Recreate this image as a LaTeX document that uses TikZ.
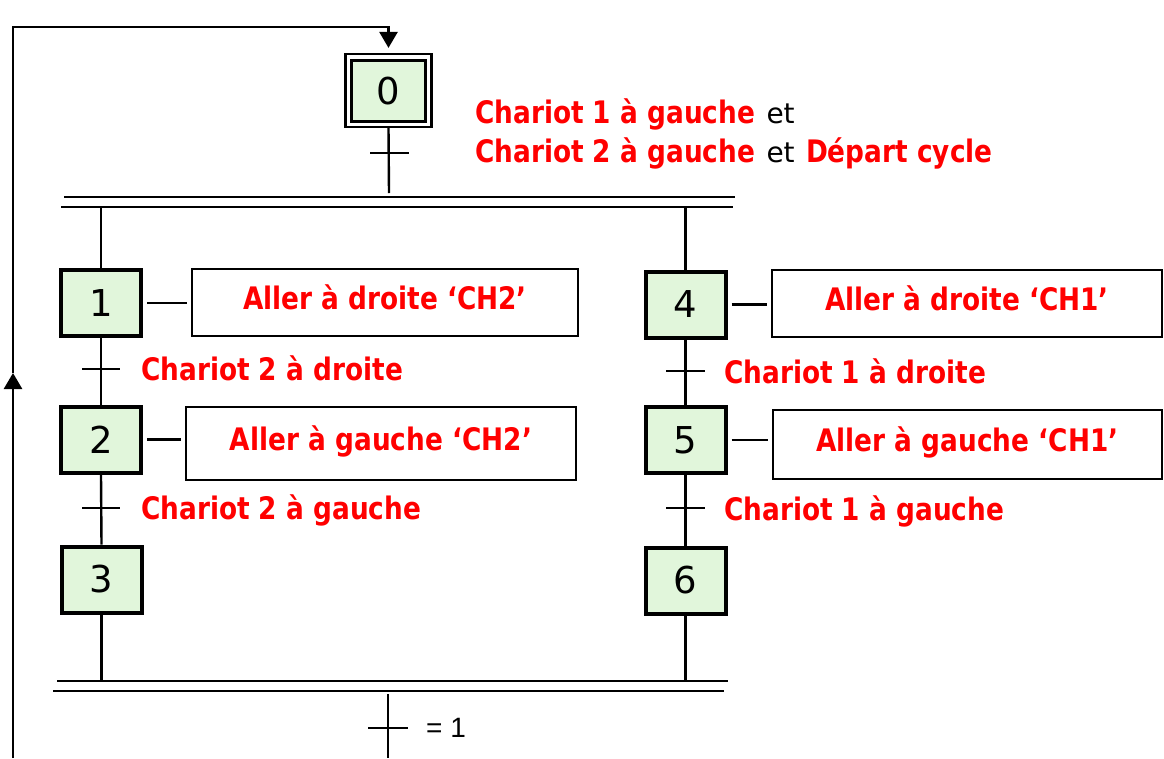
\documentclass[tikz,border=0pt]{standalone}
\usepackage{fontspec}
\setmainfont{DejaVu Sans}
\newfontfamily\tah{DejaVu Sans}[FakeStretch=0.85]
\newfontfamily\tahn{DejaVu Sans}
\newfontfamily\arialf{Liberation Sans}
\usetikzlibrary{arrows.meta,calc}
\definecolor{stepgreen}{HTML}{E1F6DB}
\definecolor{actred}{HTML}{FF0000}
\begin{document}
\begin{tikzpicture}[x=1pt,y=-1pt, line width=2.4pt,
  stepbox/.style={draw, line width=4pt, fill=stepgreen, minimum width=80pt, minimum height=66pt, inner sep=0pt, font=\tahn\fontsize{37}{42}\selectfont},
  actbox/.style={draw, line width=2.2pt, fill=white, inner sep=0pt, text=actred, font=\tah\bfseries\fontsize{31}{36}\selectfont, text height=24pt, text depth=10pt},
  cond/.style={text=actred, font=\tah\bfseries\fontsize{31}{36}\selectfont, anchor=base west, inner sep=0pt},
  blk/.style={text=black, font=\tahn\fontsize{28}{34}\selectfont, anchor=base west, inner sep=0pt},
  tick/.style={line width=2.2pt},
  link/.style={line width=2.2pt, shorten <=4pt, shorten >=4pt},
  tip/.style={-{Triangle[width=18pt,length=16pt]}}
]
\fill[white] (0,0) rectangle (1164,758);
\useasboundingbox (0,0) rectangle (1164,758);

% step 0
\node[draw, line width=2.2pt, minimum width=86pt, minimum height=73pt] (s0o) at (388.5,90.5) {};
\node[stepbox, line width=3.5pt, minimum width=74pt, minimum height=61pt] (s0) at (388.5,91) {0};

% left branch
\node[stepbox] (s1) at (101,303) {1};
\node[stepbox] (s2) at (101,439.5) {2};
\node[stepbox] (s3) at (101.5,579.5) {3};
% right branch
\node[stepbox] (s4) at (685.5,304.5) {4};
\node[stepbox] (s5) at (685.5,440) {5};
\node[stepbox] (s6) at (685.5,580.5) {6};

% actions
\node[actbox, minimum width=386pt, minimum height=67pt] (a1) at (385,302.5) {Aller à droite ‘CH2’};
\node[actbox, minimum width=390pt, minimum height=73pt] (a2) at (381,443.5) {Aller à gauche ‘CH2’};
\node[actbox, minimum width=390pt, minimum height=67pt] (a4) at (967,303.5) {Aller à droite ‘CH1’};
\node[actbox, minimum width=389pt, minimum height=69pt] (a5) at (967.5,444.5) {Aller à gauche ‘CH1’};

\draw[link] (s1.east) -- (s1.east -| a1.west);
\draw[link] (s2.east) -- (s2.east -| a2.west);
\draw[link] (s4.east) -- (s4.east -| a4.west);
\draw[link] (s5.east) -- (s5.east -| a5.west);

% bars
\draw (64,197) -- (735,197);
\draw (61,207) -- (733,207);
\draw (57,681) -- (728,681);
\draw (53,691) -- (724,691);
\coordinate (tbL) at (0,207);
\coordinate (bbU) at (0,681);

% vertical links
\draw (s0o.south) -- (389,193);
\draw (s1.north |- tbL) -- (s1.north);
\draw (s1.south) -- (s2.north);
\draw (s2.south) -- (s3.north);
\draw (s3.south) -- (s3.south |- bbU);
\draw (s4.north |- tbL) -- (s4.north);
\draw (s4.south) -- (s5.north);
\draw (s5.south) -- (s6.north);
\draw (s6.south) -- (s6.south |- bbU);
\draw (388,694) -- (388,758);

% ticks
\draw[tick] (370,153) -- (409,153);
\draw[tick] (82,369) -- (120,369);
\draw[tick] (82,508) -- (120,508);
\draw[tick] (666,371) -- (705,371);
\draw[tick] (666,508) -- (705,508);
\draw[tick] (368,728) -- (408,728);

% receptivities
\node[cond] (r0a) at (474,123) {Chariot 1 à gauche};
\node[blk] (r0b) at ([xshift=9pt]r0a.base east) {et};
\node[cond] (r0c) at (474,162) {Chariot 2 à gauche};
\node[blk] (r0d) at ([xshift=9pt]r0c.base east) {et};
\node[cond] (r0e) at ([xshift=9pt]r0d.base east) {Départ cycle};
\node[cond] (r12) at (140,380) {Chariot 2 à droite};
\node[cond] (r23) at (140,519) {Chariot 2 à gauche};
\node[cond] (r45) at (723,383) {Chariot 1 à droite};
\node[cond] (r56) at (723,520) {Chariot 1 à gauche};
\node[anchor=base west, inner sep=0pt, font=\arialf\fontsize{28}{32}\selectfont] (r7) at (425,737) {= 1};

% loop
\coordinate (lb) at (13,758);
\coordinate (la) at (13,373);
\coordinate (lt) at (13,27);
\draw[tip, line width=2.6pt] (lb) -- (la);
\draw[tip, line width=2.6pt, shorten >=5pt] (la) -- (lt) -- (lt -| s0o.north) -- (s0o.north);
\end{tikzpicture}
\end{document}
